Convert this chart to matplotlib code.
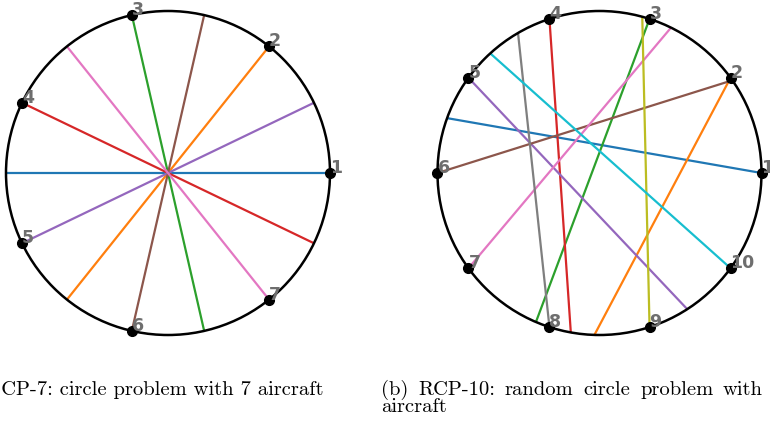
import matplotlib
matplotlib.use("Agg")
import matplotlib.pyplot as plt
import numpy as np

# CP-7: seven aircraft evenly placed on the circle, each flying through the centre
cp_labels = ["1", "2", "3", "4", "5", "6", "7"]
cp_start_deg = [0.0, 51.4, 102.9, 154.3, 205.7, 257.1, 308.6]
cp_end_deg = [180.0, 231.4, 282.9, 334.3, 25.7, 77.1, 128.6]

# RCP-10: ten aircraft on the circle with random destinations
rcp_labels = ["1", "2", "3", "4", "5", "6", "7", "8", "9", "10"]
rcp_start_deg = [0.0, 36.0, 72.0, 108.0, 144.0, 180.0, 216.0, 252.0, 288.0, 324.0]
rcp_end_deg = [160.2, 268.2, 246.9, 259.8, 302.8, 34.9, 63.8, 120.2, 74.7, 132.4]

caption_a = "(a) CP-7: circle problem with 7 aircraft"
caption_b_line1 = ["(b)", "RCP-10:", "random", "circle", "problem", "with", "10"]
caption_b_line2 = "aircraft"

W, H = 770, 423
fig = plt.figure(figsize=(W / 100, H / 100), dpi=100)

R_PX = 162.0
HALF = 1.1


def make_axes(cx, cy):
    half_px = HALF * R_PX
    left = (cx - half_px) / W
    bottom = (H - (cy + half_px)) / H
    ax = fig.add_axes([left, bottom, 2 * half_px / W, 2 * half_px / H])
    ax.set_xlim(-HALF, HALF)
    ax.set_ylim(-HALF, HALF)
    ax.set_aspect("equal")
    ax.axis("off")
    return ax


def draw_problem(ax, labels, start_deg, end_deg):
    ax.add_patch(plt.Circle((0, 0), 1.0, fill=False, color="black", lw=1.8,
                            zorder=3, clip_on=False))
    colors = plt.get_cmap("tab10").colors
    s = np.deg2rad(np.array(start_deg))
    e = np.deg2rad(np.array(end_deg))
    for i in range(len(labels)):
        ax.plot([np.cos(s[i]), np.cos(e[i])], [np.sin(s[i]), np.sin(e[i])],
                color=colors[i % 10], lw=1.6, zorder=2, clip_on=False,
                solid_capstyle="butt")
    ax.plot(np.cos(s), np.sin(s), "o", color="black", ms=7, zorder=4,
            clip_on=False)
    for i, lab in enumerate(labels):
        ax.text(np.cos(s[i]), np.sin(s[i]), lab, color="#6e6e6e",
                fontsize=12.5, fontweight="bold", ha="left", va="baseline",
                zorder=5, clip_on=False)


ax_a = make_axes(168.0, 173.0)
draw_problem(ax_a, cp_labels, cp_start_deg, cp_end_deg)

ax_b = make_axes(599.5, 173.0)
draw_problem(ax_b, rcp_labels, rcp_start_deg, rcp_end_deg)

# captions, set in Computer Modern
cap_font = dict(family="cmr10", fontsize=14.8, color="black")
base1 = 1 - 395 / H
base2 = 1 - 412 / H
fig.text(323 / W, base1, caption_a, ha="right", va="baseline", **cap_font)

# the (b) caption's first line is justified between its left and right margins
fig.canvas.draw()
renderer = fig.canvas.get_renderer()
words = [fig.text(0, base1, w, ha="left", va="baseline", **cap_font)
         for w in caption_b_line1]
widths = [t.get_window_extent(renderer).width for t in words]
left_px, right_px = 381.0, 763.0
n_fit = len(words) - 1
gap = (right_px - left_px - sum(widths[:n_fit])) / (n_fit - 1)
x = left_px
for t, w in zip(words, widths):
    t.set_x(x / W)
    x += w + gap
fig.text(left_px / W, base2, caption_b_line2, ha="left", va="baseline",
         **cap_font)

fig.savefig("out.png", dpi=100)
